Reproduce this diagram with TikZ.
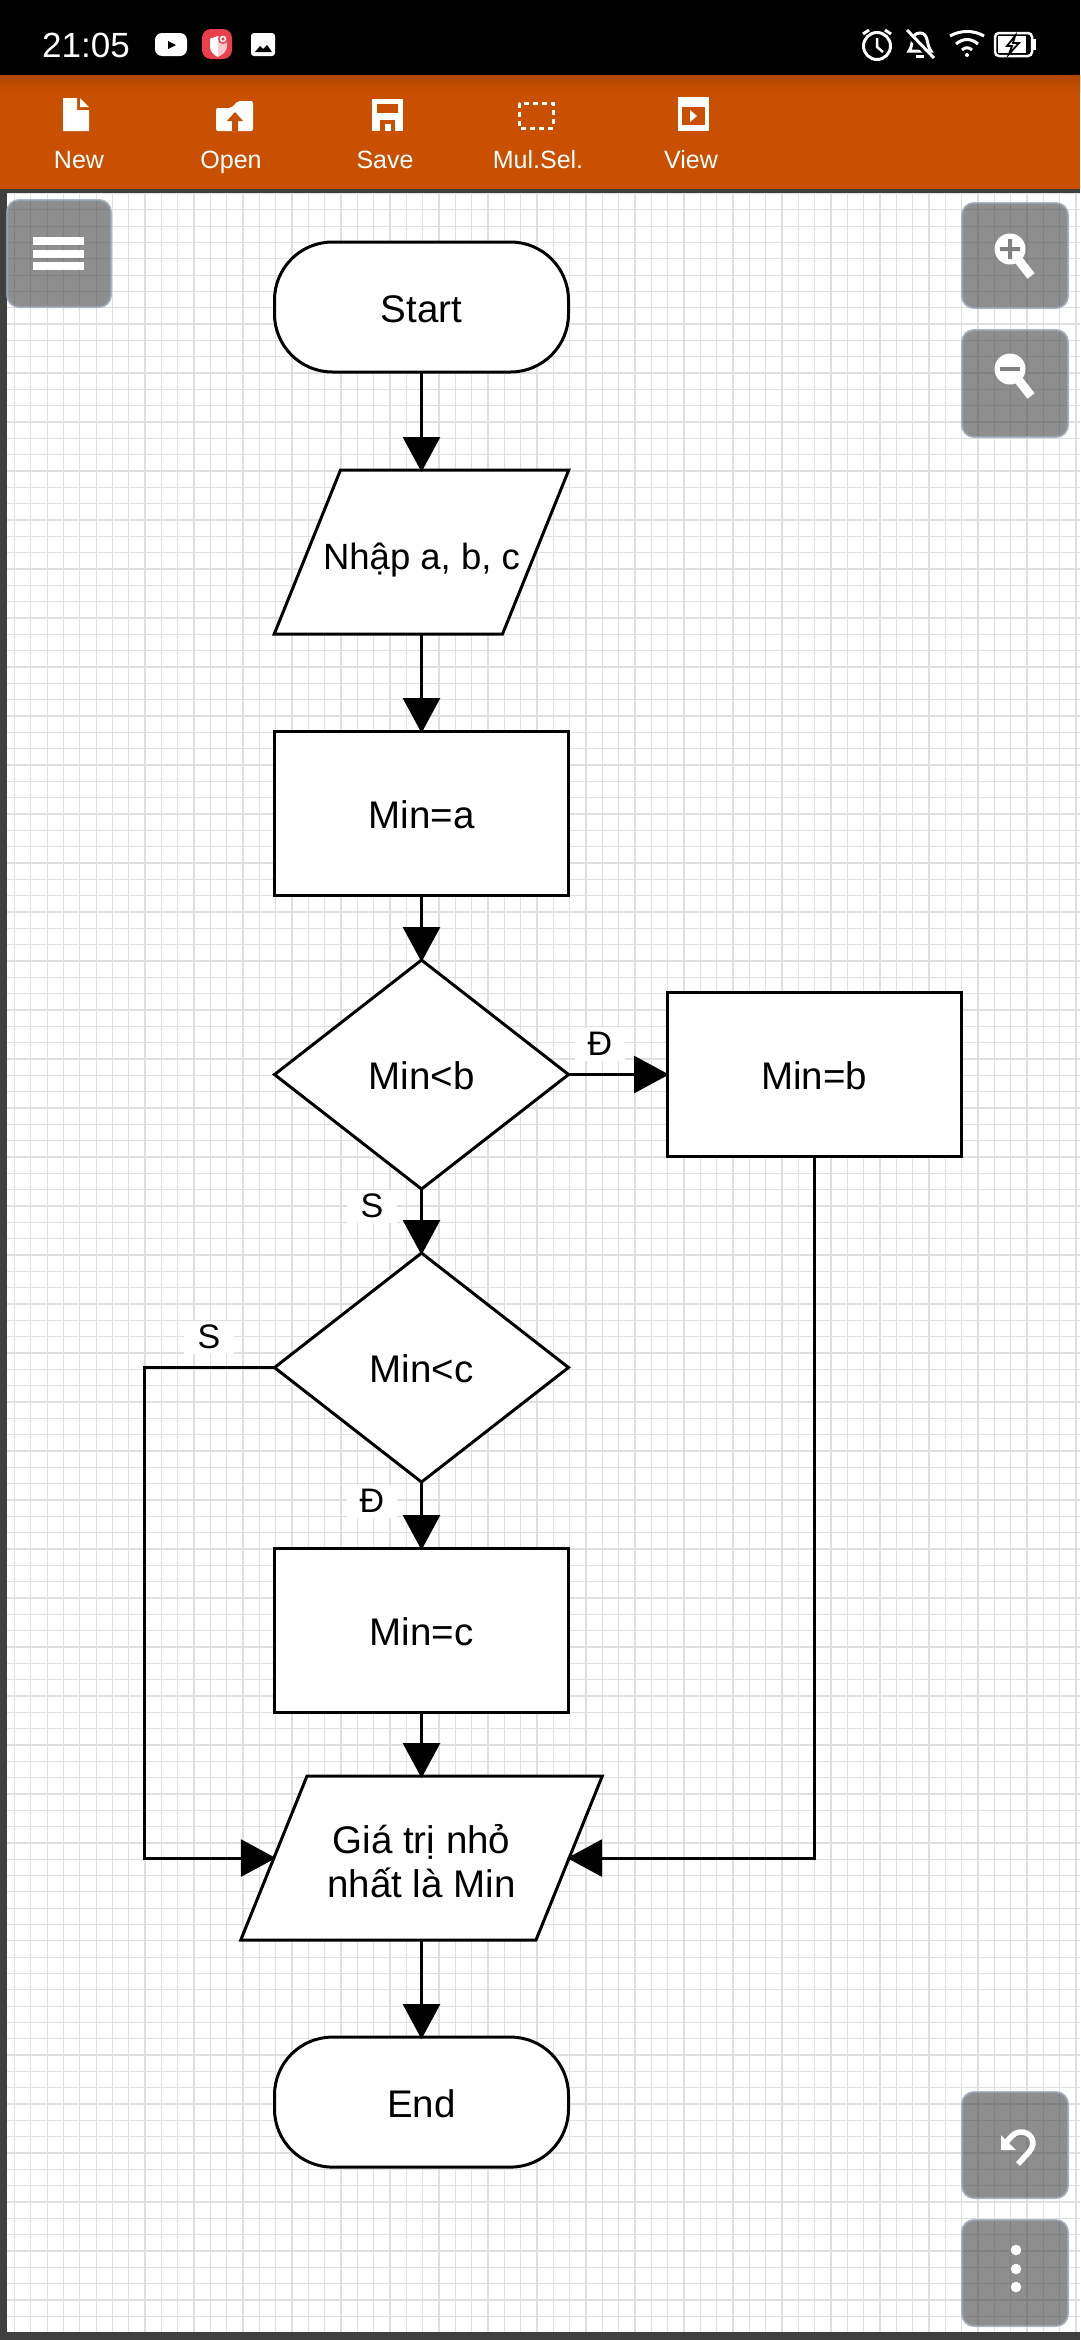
\documentclass[tikz,border=0pt]{standalone}
\usepackage{fontspec}
\setmainfont{Liberation Sans}
\usetikzlibrary{positioning,calc,arrows.meta,shapes.geometric}
\definecolor{barOrange}{HTML}{C85000}
\definecolor{barDark}{HTML}{B24700}
\definecolor{frameGray}{HTML}{404040}
\definecolor{gridGray}{HTML}{E0E0E0}
\definecolor{btnGray}{HTML}{434343}
\definecolor{btnEdge}{HTML}{9AA8B8}
\definecolor{shieldRed}{HTML}{EA3F4C}
\definecolor{shieldPink}{HTML}{F8C8CC}
\newcommand{\slanttext}[1]{\makebox[0pt]{\begin{tabular}{@{}c@{}}#1\end{tabular}}}

\begin{document}
\begin{tikzpicture}[x=1pt, y=-1pt,
        every node/.style={font=\fontsize{38.5}{44}\selectfont, align=center, inner sep=0pt, outer sep=0pt},
        boxtext/.style={draw, line width=3pt, fill=white, text height=34pt, text depth=4pt},
        terminal/.style={boxtext, rounded corners=58pt, minimum width=294pt, minimum height=130pt},
        process/.style={boxtext, minimum width=294pt, minimum height=164pt},
        decision/.style={boxtext, diamond, minimum width=294pt, minimum height=229pt},
        inout/.style={boxtext, trapezium, trapezium left angle=68, trapezium right angle=112, inner ysep=63pt},
        flow/.style={line width=3pt, shorten >=-2pt, -{Triangle[width=37pt, length=35pt]}},
        branch/.style={fill=white, minimum width=50pt, minimum height=33pt, font=\fontsize{34}{34}\selectfont},
        toollabel/.style={text=white, font=\fontsize{25}{26}\selectfont},
        button/.style={fill=btnGray, fill opacity=.6, draw=btnEdge, draw opacity=.8, line width=2pt, rounded corners=12pt}]
    \useasboundingbox (0,0) rectangle (1080,2340);

    % canvas + grid
    \fill[frameGray] (0,0) rectangle (1080,2340);
    \fill[white] (7,194) rectangle (1080,2332);
    \foreach \k in {0,...,65}
        \draw[gridGray, line width=1.3pt] ({14.5+16.33*\k},194) -- ({14.5+16.33*\k},2332);
    \foreach \k in {0,...,130}
        \draw[gridGray, line width=1.3pt] (7,{193.5+16.33*\k}) -- (1080,{193.5+16.33*\k});

    % status bar and tool bar
    \fill[black] (0,0) rectangle (1080,75);
    \fill[barOrange] (0,75) rectangle (1080,189);
    \shade[top color=barDark, bottom color=barOrange] (0,75) rectangle (1080,92);
    \node[text=white, font=\fontsize{35}{35}\selectfont] (clock) at (86,45) {21:05};

    \fill[white, rounded corners=7pt] (155,33) rectangle (187,56);
    \fill[black] (168,41) -- (176,45) -- (168,49) -- cycle;
    \fill[shieldRed, rounded corners=9pt] (202,29) rectangle (232,59);
    \fill[shieldPink] (210,39) -- (218,36) -- (227,39) -- (227,46) .. controls (227,52) and (222,55) .. (218,57) .. controls (214,55) and (210,52) .. (210,46) -- cycle;
    \fill[white] (210,39) -- (218,36) -- (218,57) .. controls (214,55) and (210,52) .. (210,46) -- cycle;
    \fill[shieldRed] (223,39) circle (5pt);
    \draw[white, line width=1.5pt] (223,39) circle (2.5pt);
    \fill[white, rounded corners=3pt] (251,33) rectangle (275,56);
    \fill[black] (255,52) -- (260,46) -- (263,49) -- (267,45) -- (272,52) -- cycle;

    \draw[white, line width=3pt] (877,46) circle (13.5pt);
    \draw[white, line width=2.5pt] (877,38) -- (877,47) -- (883,52);
    \draw[white, line width=3pt] (863,34) -- (869,30) (885,30) -- (891,34);
    \draw[white, line width=3pt] (909,51) .. controls (914,45) and (910,33) .. (920,33) .. controls (929,33) and (926,45) .. (931,51) -- cycle;
    \draw[white, line width=3pt] (916,56) -- (924,56);
    \draw[black, line width=6pt] (907,33) -- (933,59);
    \draw[white, line width=3pt] (907,30) -- (934,58);
    \draw[white, line width=3pt] (950,36) .. controls (960,30) and (974,30) .. (984,36);
    \draw[white, line width=3pt] (956,44) .. controls (963,38) and (971,38) .. (978,44);
    \draw[white, line width=3pt] (962,50) .. controls (965,47) and (969,47) .. (972,50);
    \fill[white] (967,55) circle (2pt);
    \draw[white, line width=2.5pt, rounded corners=4pt] (995,33) rectangle (1032,56);
    \fill[white] (1033,39) rectangle (1036,50);
    \fill[white] (998,36) rectangle (1026,53);
    \fill[white, draw=black, line width=1.8pt] (1015,36) -- (1007,46) -- (1012,46) -- (1009,54) -- (1019,43) -- (1013,43) -- cycle;

    % tool bar icons
    \fill[white] (63,98) -- (77,98) -- (77,110) -- (89,110) -- (89,131) -- (63,131) -- cycle;
    \fill[white] (80,98) -- (89,107) -- (80,107) -- cycle;
    \fill[white, rounded corners=2pt] (216,131) -- (216,108) -- (231,108) -- (238,101) -- (253,101) -- (253,131) -- cycle;
    \fill[barOrange] (235,112) -- (243,121) -- (238,121) -- (238,131) -- (232,131) -- (232,121) -- (227,121) -- cycle;
    \fill[white] (372,99) rectangle (403,131);
    \fill[barOrange] (377,104) rectangle (398,113);
    \fill[barOrange] (380,120) rectangle (395,131);
    \fill[white] (385,124) rectangle (391,131);
    \draw[white, line width=3pt, dash pattern=on 5pt off 4pt] (519,103) rectangle (553,128);
    \fill[white] (678,97) rectangle (709,131);
    \fill[barOrange] (682,107) rectangle (705,125);
    \fill[white] (690,110) -- (697,116) -- (690,122) -- cycle;

    \node[toollabel] (new)  at (79,160)  {New};
    \node[toollabel] (open) at (231,162) {Open};
    \node[toollabel] (save) at (385,160) {Save};
    \node[toollabel] (mul)  at (538,160) {Mul.Sel.};
    \node[toollabel] (view) at (691,160) {View};

    % flowchart
    \node[terminal] (start) at (421.5,307) {Start};
    \node[inout, inner xsep=81pt, below=98pt of start, font=\fontsize{36.5}{44}\selectfont] (input) {\slanttext{Nhập a, b, c}};
    \node[process, below=97pt of input] (seta) {Min=a};
    \node[decision, below=65pt of seta] (testb) {Min<b};
    \node[process, right=98.5pt of testb] (setb) {Min=b};
    \node[decision, below=64pt of testb] (testc) {Min<c};
    \node[process, below=66pt of testc] (setc) {Min=c};
    \node[inout, inner xsep=114.5pt, below=64pt of setc] (output) {\slanttext{Giá trị nhỏ\ \\nhất là Min}};
    \node[terminal, below=97pt of output] (stop) {End};
    \coordinate (leftrun) at (144,0);

    \node[branch] (yesb) at (600,1044) {Đ};
    \node[branch] (nob) at (372,1206) {S};
    \node[branch] (noc) at (209,1337) {S};
    \node[branch] (yesc) at (372,1501) {Đ};

    \draw[flow] (start) -- (input);
    \draw[flow] (input) -- (seta);
    \draw[flow] (seta) -- (testb);
    \draw[flow] (testb) -- (setb);
    \draw[flow] (testb) -- (testc);
    \draw[flow] (testc) -- (setc);
    \draw[flow] (setc) -- (output);
    \draw[flow] (output) -- (stop);
    \draw[flow] (setb.south) |- (output.east);
    \draw[flow] (testc.west) -- (testc.west -| leftrun) |- (output.west);

    % floating buttons
    \draw[button] (7,200) rectangle (111,307);
    \fill[white] (33,237) rectangle (84,245);
    \fill[white] (33,250) rectangle (84,258);
    \fill[white] (33,262) rectangle (84,270);

    \draw[button] (962,203) rectangle (1068,308);
    \fill[white] (1010,249) circle (15.5pt);
    \draw[white, line width=9pt] (1017,258) -- (1031,276);
    \fill[gray] (1000,247) rectangle (1020,251) (1008,239) rectangle (1012,259);

    \draw[button] (962,330) rectangle (1068,437);
    \fill[white] (1010,369) circle (15.5pt);
    \draw[white, line width=9pt] (1017,378) -- (1031,396);
    \fill[gray] (1000,367) rectangle (1020,371);

    \draw[button] (962,2092) rectangle (1068,2198);
    \draw[white, line width=5.5pt] (1018,2164) -- (1029,2152) .. controls (1038,2142) and (1030,2131) .. (1020,2132) .. controls (1015,2132) and (1010,2137) .. (1006,2143);
    \fill[white] (1001,2135) -- (1001,2150) -- (1016,2150) -- cycle;

    \draw[button] (962,2220) rectangle (1068,2326);
    \foreach \dy in {2250,2269,2287}
        \fill[white] (1016,\dy) circle (5.3pt);
\end{tikzpicture}
\end{document}
